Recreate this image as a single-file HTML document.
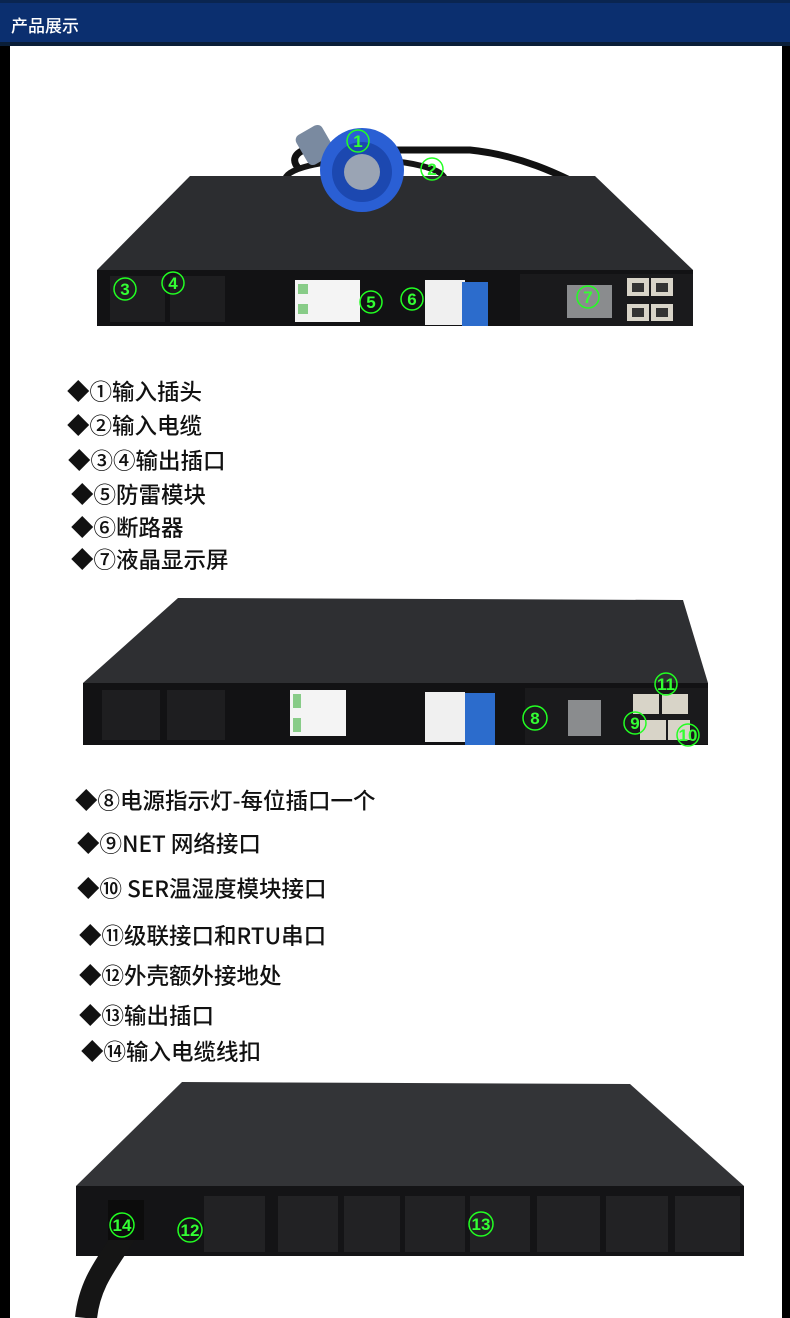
<!DOCTYPE html>
<html><head><meta charset="utf-8">
<style>
html,body{margin:0;padding:0}
body{width:790px;height:1318px;position:relative;overflow:hidden;background:#fff;font-family:"Liberation Sans","Noto Sans CJK SC",sans-serif}
#hdr{position:absolute;left:0;top:0;width:790px;height:42px;background:#0b2f6f;border-top:3px solid #0a2550;box-sizing:border-box}
#hdr span{position:absolute;left:11px;top:9px;color:#fff;font-size:17px;font-family:"Noto Sans CJK SC",sans-serif;font-weight:500}
#hl{position:absolute;left:0;top:42px;width:790px;height:4px;background:#0a1e38}
.sl{position:absolute;left:0;top:46px;width:10px;height:1272px;background:#000}
.sr{position:absolute;left:782px;top:46px;width:8px;height:1272px;background:#000}
.t{position:absolute;font-family:"Noto Sans CJK SC",sans-serif;font-size:22.5px;color:#111;white-space:nowrap;line-height:26px;font-weight:500}
svg{position:absolute;left:0;top:0}
.g{fill:none;stroke:#2f2;stroke-width:1.5}
.gt{fill:#3f3;font-family:"Liberation Sans",sans-serif;font-size:17px;text-anchor:middle;font-weight:bold}
.s{fill:#0a0a0a}
</style></head><body>
<div id="hdr"><span>产品展示</span></div><div id="hl"></div>
<div class="sl"></div><div class="sr"></div>

<svg width="790" height="1318" viewBox="0 0 790 1318">
<!-- Device 1 -->
<path d="M300 170 C280 150 320 140 360 150 L470 150 C520 155 560 175 580 185" stroke="#111" stroke-width="7" fill="none"/>
<ellipse cx="365" cy="180" rx="80" ry="20" stroke="#151515" stroke-width="6" fill="none"/>
<polygon points="190,176 595,176 693,270 97,270" fill="#2c2d30"/>
<rect x="97" y="270" width="596" height="56" fill="#121214"/>
<rect x="110" y="276" width="55" height="46" fill="#1e1e20"/>
<rect x="170" y="276" width="55" height="46" fill="#1e1e20"/>
<rect x="295" y="280" width="65" height="42" fill="#f4f4f4"/>
<rect x="298" y="284" width="10" height="10" fill="#8c8"/><rect x="298" y="304" width="10" height="10" fill="#8c8"/>
<rect x="425" y="280" width="40" height="45" fill="#f0f0f0"/>
<rect x="462" y="282" width="26" height="44" fill="#2c6ccc"/>
<rect x="520" y="274" width="173" height="52" fill="#1a1a1c"/>
<rect x="567" y="285" width="45" height="33" fill="#8a8c8e"/>
<rect x="627" y="278" width="22" height="18" fill="#d8d4c8"/><rect x="651" y="278" width="22" height="18" fill="#d8d4c8"/>
<rect x="627" y="304" width="22" height="17" fill="#d8d4c8"/><rect x="651" y="304" width="22" height="17" fill="#d8d4c8"/>
<rect x="632" y="283" width="12" height="9" fill="#333"/><rect x="656" y="283" width="12" height="9" fill="#333"/>
<rect x="632" y="308" width="12" height="9" fill="#333"/><rect x="656" y="308" width="12" height="9" fill="#333"/>
<rect x="300" y="128" width="30" height="34" rx="6" fill="#7a8aa0" transform="rotate(-30 315 145)"/>
<circle cx="362" cy="170" r="42" fill="#2a5fd4"/>
<circle cx="362" cy="172" r="30" fill="#1c48b0"/>
<circle cx="362" cy="172" r="18" fill="#9aa4b4"/>
<circle class="g" cx="358" cy="141" r="11"/><text class="gt" x="358" y="147">1</text>
<circle class="g" cx="432" cy="169" r="11"/><text class="gt" x="432" y="175">2</text>
<circle class="g" cx="125" cy="289" r="11"/><text class="gt" x="125" y="295">3</text>
<circle class="g" cx="173" cy="283" r="11"/><text class="gt" x="173" y="289">4</text>
<circle class="g" cx="371" cy="302" r="11"/><text class="gt" x="371" y="308">5</text>
<circle class="g" cx="412" cy="299" r="11"/><text class="gt" x="412" y="305">6</text>
<circle class="g" cx="588" cy="297" r="11"/><text class="gt" x="588" y="303">7</text>

<!-- Device 2 -->
<polygon points="178,598 683,600 708,683 83,683" fill="#2e2f32"/>
<rect x="83" y="683" width="625" height="62" fill="#121214"/>
<rect x="102" y="690" width="58" height="50" fill="#1e1e20"/>
<rect x="167" y="690" width="58" height="50" fill="#1e1e20"/>
<rect x="290" y="690" width="56" height="46" fill="#f4f4f4"/>
<rect x="293" y="694" width="8" height="14" fill="#8c8"/><rect x="293" y="718" width="8" height="14" fill="#8c8"/>
<rect x="425" y="692" width="40" height="50" fill="#f0f0f0"/>
<rect x="465" y="693" width="30" height="52" fill="#2c6ccc"/>
<rect x="525" y="688" width="183" height="56" fill="#1a1a1c"/>
<rect x="568" y="700" width="33" height="36" fill="#8a8c8e"/>
<rect x="633" y="694" width="26" height="20" fill="#d8d4c8"/><rect x="662" y="694" width="26" height="20" fill="#d8d4c8"/>
<rect x="640" y="720" width="26" height="20" fill="#d8d4c8"/><rect x="668" y="720" width="22" height="20" fill="#d8d4c8"/>
<circle class="g" cx="535" cy="718" r="12"/><text class="gt" x="535" y="724">8</text>
<circle class="g" cx="666" cy="684" r="11"/><text class="gt" x="666" y="690">11</text>
<circle class="g" cx="635" cy="723" r="11"/><text class="gt" x="635" y="729">9</text>
<circle class="g" cx="688" cy="735" r="11"/><text class="gt" x="688" y="741">10</text>

<!-- Device 3 -->
<polygon points="182,1082 630,1084 744,1186 76,1186" fill="#333437"/>
<rect x="76" y="1186" width="668" height="70" fill="#141416"/>
<g fill="#222224">
<rect x="204" y="1196" width="61" height="56"/><rect x="278" y="1196" width="60" height="56"/>
<rect x="344" y="1196" width="56" height="56"/><rect x="405" y="1196" width="60" height="56"/>
<rect x="470" y="1196" width="60" height="56"/><rect x="537" y="1196" width="63" height="56"/>
<rect x="606" y="1196" width="62" height="56"/><rect x="675" y="1196" width="65" height="56"/>
</g>
<path d="M128 1230 C110 1260 90 1280 86 1318" stroke="#151515" stroke-width="22" fill="none"/>
<rect x="108" y="1200" width="36" height="40" fill="#0c0c0c"/>
<circle class="g" cx="122" cy="1225" r="12"/><text class="gt" x="122" y="1231">14</text>
<circle class="g" cx="190" cy="1230" r="12"/><text class="gt" x="190" y="1236">12</text>
<circle class="g" cx="481" cy="1224" r="12"/><text class="gt" x="481" y="1230">13</text>
</svg>

<div class="t" style="left:67px;top:378px">◆①输入插头</div>
<div class="t" style="left:67px;top:412px">◆②输入电缆</div>
<div class="t" style="left:68px;top:447px">◆③④输出插口</div>
<div class="t" style="left:71px;top:481px">◆⑤防雷模块</div>
<div class="t" style="left:71px;top:514px">◆⑥断路器</div>
<div class="t" style="left:71px;top:546px">◆⑦液晶显示屏</div>

<div class="t" style="left:75px;top:787px">◆⑧电源指示灯-每位插口一个</div>
<div class="t" style="left:77px;top:830px">◆⑨NET 网络接口</div>
<div class="t" style="left:77px;top:875px">◆⑩ SER温湿度模块接口</div>
<div class="t" style="left:79px;top:922px">◆⑪级联接口和RTU串口</div>
<div class="t" style="left:79px;top:962px">◆⑫外壳额外接地处</div>
<div class="t" style="left:79px;top:1002px">◆⑬输出插口</div>
<div class="t" style="left:81px;top:1038px">◆⑭输入电缆线扣</div>
</body></html>
